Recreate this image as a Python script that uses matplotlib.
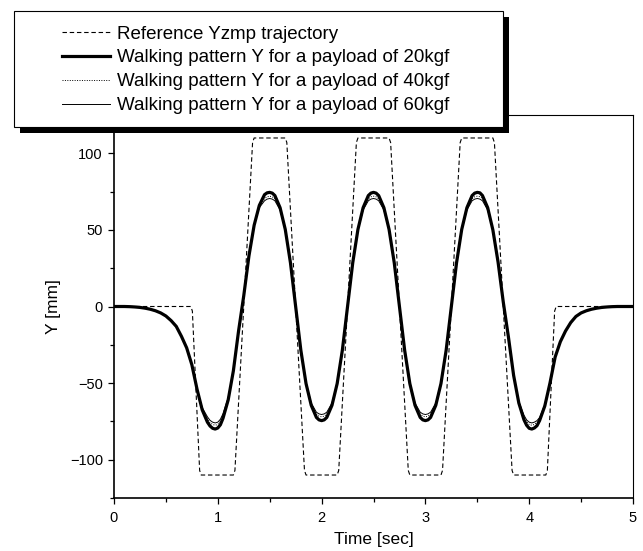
import matplotlib
matplotlib.use("Agg")
import matplotlib.pyplot as plt
from matplotlib.patches import Rectangle
from matplotlib.ticker import MultipleLocator

plt.rcParams["font.family"] = ["Liberation Sans", "DejaVu Sans"]

# reference ZMP trajectory (corner points)
t_ref = [0.00, 0.74, 0.755, 0.825, 0.84, 1.15, 1.165, 1.335, 1.35, 1.65,
         1.665, 1.835, 1.85, 2.15, 2.165, 2.335, 2.35, 2.65, 2.665, 2.835,
         2.85, 3.15, 3.165, 3.335, 3.35, 3.65, 3.665, 3.835, 3.85, 4.16,
         4.175, 4.245, 4.26, 5.00]
y_ref = [0, 0, -3, -107, -110, -110, -107, 107, 110, 110,
         107, -107, -110, -110, -107, 107, 110, 110, 107, -107,
         -110, -110, -107, 107, 110, 110, 107, -107, -110, -110,
         -107, -3, 0, 0]

# walking pattern samples (denser around the extrema)
t = [0.00, 0.05, 0.10, 0.15, 0.20, 0.25, 0.30, 0.35, 0.40, 0.45,
     0.50, 0.55, 0.60, 0.65, 0.70, 0.75, 0.80, 0.85, 0.90, 0.925,
     0.95, 0.975, 1.00, 1.025, 1.05, 1.10, 1.15, 1.20, 1.25, 1.30,
     1.35, 1.40, 1.45, 1.475, 1.50, 1.525, 1.55, 1.60, 1.65, 1.70,
     1.75, 1.80, 1.85, 1.90, 1.95, 1.975, 2.00, 2.025, 2.05, 2.10,
     2.15, 2.20, 2.25, 2.30, 2.35, 2.40, 2.45, 2.475, 2.50, 2.525,
     2.55, 2.60, 2.65, 2.70, 2.75, 2.80, 2.85, 2.90, 2.95, 2.975,
     3.00, 3.025, 3.05, 3.10, 3.15, 3.20, 3.25, 3.30, 3.35, 3.40,
     3.45, 3.475, 3.50, 3.525, 3.55, 3.60, 3.65, 3.70, 3.75, 3.80,
     3.85, 3.90, 3.95, 3.975, 4.00, 4.025, 4.05, 4.075, 4.10, 4.15,
     4.20, 4.25, 4.30, 4.35, 4.40, 4.45, 4.50, 4.55, 4.60, 4.65,
     4.70, 4.75, 4.80, 4.85, 4.90, 4.95, 5.00]

y_20 = [0, 0, 0, -0.1, -0.3, -0.6, -1.1, -1.8, -2.8, -4.2,
        -6.2, -9.2, -13, -19.5, -27, -38, -54, -67.5, -75.5, -78,
        -79.5, -80, -79.3, -77.2, -73, -61, -42, -16, 7, 33,
        53, 66, 73, 74.2, 74.5, 74.0, 72.4, 64.5, 50.3, 28.5,
        0, -28.5, -50.3, -64.5, -72.4, -74.0, -74.5, -74.0, -72.4, -64.5,
        -50.3, -28.5, 0, 28.5, 50.3, 64.5, 72.4, 74.0, 74.5, 74.0,
        72.4, 64.5, 50.3, 28.5, 0, -28.5, -50.3, -64.5, -72.4, -74.0,
        -74.5, -74.0, -72.4, -64.5, -50.3, -28.5, 0, 28.5, 50.3, 64.5,
        72.4, 74.0, 74.5, 74.2, 72.4, 64.5, 50, 29, 3, -20,
        -45, -63, -74, -77.5, -79.5, -80, -79.3, -77.8, -74.5, -65,
        -50, -33, -23, -16, -10.5, -6.5, -4.2, -2.8, -1.8, -1.1,
        -0.6, -0.3, -0.1, 0, 0, 0, 0]

y_40 = [0, 0, 0, -0.1, -0.3, -0.6, -1.1, -1.8, -2.8, -4.2,
        -6.2, -9.2, -13, -19.5, -27, -38, -54, -66.5, -73.5, -75.8,
        -77, -77.5, -77, -75, -71, -60, -42, -16, 7, 33,
        53, 65, 70.5, 71.6, 72, 71.6, 70.3, 63.5, 50, 28.5,
        0, -28.5, -50, -63.5, -70.3, -71.6, -72, -71.6, -70.3, -63.5,
        -50, -28.5, 0, 28.5, 50, 63.5, 70.3, 71.6, 72, 71.6,
        70.3, 63.5, 50, 28.5, 0, -28.5, -50, -63.5, -70.3, -71.6,
        -72, -71.6, -70.3, -63.5, -50, -28.5, 0, 28.5, 50, 63.5,
        70.3, 71.6, 72, 71.7, 70.5, 63.5, 49.8, 29, 3, -20,
        -45, -62.5, -72, -75, -77, -77.5, -77, -75.5, -73, -64.5,
        -50, -33, -23, -16, -10.5, -6.5, -4.2, -2.8, -1.8, -1.1,
        -0.6, -0.3, -0.1, 0, 0, 0, 0]

y_60 = [0, 0, 0, -0.1, -0.3, -0.6, -1.1, -1.8, -2.8, -4.2,
        -6.2, -9.2, -13, -19.5, -27, -38, -54, -66, -72, -74.3,
        -75.5, -76, -75.5, -73.6, -70, -59.5, -42, -16, 7, 33,
        53, 64.5, 69, 70.1, 70.5, 70.1, 69, 63, 49.5, 28.5,
        0, -28.5, -49.5, -63, -69, -70.1, -70.5, -70.1, -69, -63,
        -49.5, -28.5, 0, 28.5, 49.5, 63, 69, 70.1, 70.5, 70.1,
        69, 63, 49.5, 28.5, 0, -28.5, -49.5, -63, -69, -70.1,
        -70.5, -70.1, -69, -63, -49.5, -28.5, 0, 28.5, 49.5, 63,
        69, 70.1, 70.5, 70.1, 69, 63, 49.5, 29, 3, -20,
        -45, -62, -71, -74, -75.5, -76, -75.5, -74.5, -72.5, -64,
        -50, -33, -23, -16, -10.5, -6.5, -4.2, -2.8, -1.8, -1.1,
        -0.6, -0.3, -0.1, 0, 0, 0, 0]

labels = [
    "Reference Yzmp trajectory",
    "Walking pattern Y for a payload of 20kgf",
    "Walking pattern Y for a payload of 40kgf",
    "Walking pattern Y for a payload of 60kgf",
]


def main():
    fig = plt.figure(figsize=(6.43, 5.51), dpi=100)
    ax = fig.add_axes([114 / 643, 53 / 551, 519 / 643, 383 / 551])

    h_ref, = ax.plot(t_ref, y_ref, color="black", lw=0.8, dashes=(4, 2.5))
    h60, = ax.plot(t, y_60, color="black", lw=0.7)
    h40, = ax.plot(t, y_40, color="black", lw=0.7, linestyle=(0, (1, 1.5)))
    h20, = ax.plot(t, y_20, color="black", lw=2.3, solid_joinstyle="round")

    ax.set_xlim(0, 5)
    ax.set_ylim(-125, 125)
    ax.xaxis.set_major_locator(MultipleLocator(1))
    ax.xaxis.set_minor_locator(MultipleLocator(0.5))
    ax.yaxis.set_major_locator(MultipleLocator(50))
    ax.yaxis.set_minor_locator(MultipleLocator(25))
    ax.tick_params(which="major", direction="out", length=4.5, width=0.9,
                   labelsize=10.5, top=False, right=False)
    ax.tick_params(axis="x", which="major", pad=5)
    ax.tick_params(which="minor", direction="out", length=2.6, width=0.9,
                   top=False, right=False)
    for side in ("left", "bottom"):
        ax.spines[side].set_linewidth(1.2)
    for side in ("top", "right"):
        ax.spines[side].set_linewidth(0.8)

    ax.set_xlabel("Time [sec]", fontsize=12.5, labelpad=5)
    ax.set_ylabel("Y [mm]", fontsize=12.5, labelpad=6)

    # legend frame with a hard black drop shadow, drawn on top of the axes
    W, H = 643.0, 551.0
    shadow = Rectangle((20 / W, (H - 133) / H), 489 / W, 116 / H,
                       transform=fig.transFigure, facecolor="black",
                       edgecolor="none", zorder=10)
    frame = Rectangle((14 / W, (H - 127) / H), 489 / W, 116 / H,
                      transform=fig.transFigure, facecolor="white",
                      edgecolor="black", lw=0.8, zorder=11)
    fig.add_artist(shadow)
    fig.add_artist(frame)

    leg = fig.legend([h_ref, h20, h40, h60], labels, loc="upper left",
                     bbox_to_anchor=(62 / W, 1 - 25.5 / H), frameon=False,
                     fontsize=13.5, handlelength=2.56, handletextpad=0.37,
                     labelspacing=0.36, borderpad=0, borderaxespad=0)
    leg.set_zorder(12)

    fig.savefig("out.png", dpi=100)


if __name__ == "__main__":
    main()
